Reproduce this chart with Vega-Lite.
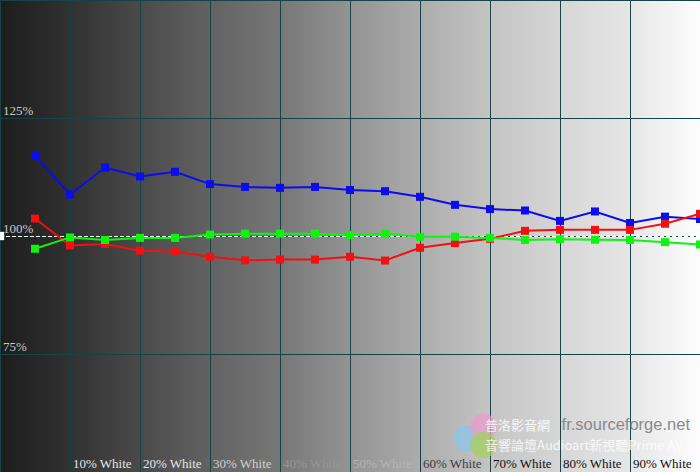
{
  "$schema": "https://vega.github.io/schema/vega-lite/v6.json",
  "width": 700,
  "height": 472,
  "padding": 0,
  "autosize": {"type": "fit", "contains": "padding"},
  "background": "#1e1e1e",
  "config": {"view": {"stroke": null}},
  "resolve": {"scale": {"color": "independent"}},
  "datasets": {
    "rgb": [
      {"p": 5, "c": "Blue", "v": 117.0}, {"p": 10, "c": "Blue", "v": 108.8}, {"p": 15, "c": "Blue", "v": 114.5}, {"p": 20, "c": "Blue", "v": 112.6},
      {"p": 25, "c": "Blue", "v": 113.6}, {"p": 30, "c": "Blue", "v": 111.0}, {"p": 35, "c": "Blue", "v": 110.4}, {"p": 40, "c": "Blue", "v": 110.2},
      {"p": 45, "c": "Blue", "v": 110.4}, {"p": 50, "c": "Blue", "v": 109.75}, {"p": 55, "c": "Blue", "v": 109.5}, {"p": 60, "c": "Blue", "v": 108.3},
      {"p": 65, "c": "Blue", "v": 106.6}, {"p": 70, "c": "Blue", "v": 105.7}, {"p": 75, "c": "Blue", "v": 105.4}, {"p": 80, "c": "Blue", "v": 103.2},
      {"p": 85, "c": "Blue", "v": 105.2}, {"p": 90, "c": "Blue", "v": 102.75}, {"p": 95, "c": "Blue", "v": 104.1}, {"p": 100, "c": "Blue", "v": 103.6},
      {"p": 5, "c": "Red", "v": 103.7}, {"p": 10, "c": "Red", "v": 98.0}, {"p": 15, "c": "Red", "v": 98.3}, {"p": 20, "c": "Red", "v": 96.9},
      {"p": 25, "c": "Red", "v": 96.7}, {"p": 30, "c": "Red", "v": 95.6}, {"p": 35, "c": "Red", "v": 94.85}, {"p": 40, "c": "Red", "v": 95.0},
      {"p": 45, "c": "Red", "v": 95.0}, {"p": 50, "c": "Red", "v": 95.6}, {"p": 55, "c": "Red", "v": 94.8}, {"p": 60, "c": "Red", "v": 97.5},
      {"p": 65, "c": "Red", "v": 98.5}, {"p": 70, "c": "Red", "v": 99.4}, {"p": 75, "c": "Red", "v": 101.1}, {"p": 80, "c": "Red", "v": 101.3},
      {"p": 85, "c": "Red", "v": 101.3}, {"p": 90, "c": "Red", "v": 101.3}, {"p": 95, "c": "Red", "v": 102.6}, {"p": 100, "c": "Red", "v": 104.7},
      {"p": 5, "c": "Green", "v": 97.3}, {"p": 10, "c": "Green", "v": 99.7}, {"p": 15, "c": "Green", "v": 99.15}, {"p": 20, "c": "Green", "v": 99.6},
      {"p": 25, "c": "Green", "v": 99.6}, {"p": 30, "c": "Green", "v": 100.3}, {"p": 35, "c": "Green", "v": 100.5}, {"p": 40, "c": "Green", "v": 100.5},
      {"p": 45, "c": "Green", "v": 100.5}, {"p": 50, "c": "Green", "v": 100.2}, {"p": 55, "c": "Green", "v": 100.5}, {"p": 60, "c": "Green", "v": 99.85},
      {"p": 65, "c": "Green", "v": 99.85}, {"p": 70, "c": "Green", "v": 99.6}, {"p": 75, "c": "Green", "v": 99.15}, {"p": 80, "c": "Green", "v": 99.3},
      {"p": 85, "c": "Green", "v": 99.2}, {"p": 90, "c": "Green", "v": 99.15}, {"p": 95, "c": "Green", "v": 98.7}, {"p": 100, "c": "Green", "v": 98.2}
    ]
  },
  "layer": [
    {
      "data": {"values": [{}]},
      "mark": {
        "type": "rect",
        "fill": {
          "gradient": "linear", "x1": 0, "y1": 0, "x2": 1, "y2": 0,
          "stops": [
            {"offset": 0, "color": "#1c1c1c"},
            {"offset": 0.1, "color": "#313131"},
            {"offset": 0.2, "color": "#4a4a4a"},
            {"offset": 0.3, "color": "#626262"},
            {"offset": 0.4, "color": "#777777"},
            {"offset": 0.5, "color": "#939393"},
            {"offset": 0.6, "color": "#acacac"},
            {"offset": 0.7, "color": "#c4c4c4"},
            {"offset": 0.8, "color": "#d6d6d6"},
            {"offset": 0.9, "color": "#e6e6e6"},
            {"offset": 1, "color": "#fdfdfd"}
          ]
        }
      },
      "encoding": {
        "x": {"datum": 0, "type": "quantitative", "scale": {"domain": [0, 100], "nice": false, "zero": false}, "axis": null},
        "x2": {"datum": 100},
        "y": {"datum": 50, "type": "quantitative", "scale": {"domain": [50, 150], "nice": false, "zero": false}, "axis": null},
        "y2": {"datum": 150}
      }
    },
    {
      "data": {"values": [{"g": 0}, {"g": 10}, {"g": 20}, {"g": 30}, {"g": 40}, {"g": 50}, {"g": 60}, {"g": 70}, {"g": 80}, {"g": 90}, {"g": 100}]},
      "mark": {"type": "rule", "color": "#164248", "strokeWidth": 1, "xOffset": 0.5, "clip": true},
      "encoding": {"x": {"field": "g", "type": "quantitative"}}
    },
    {
      "data": {"values": [{"g": 75}, {"g": 100}, {"g": 125}, {"g": 150}]},
      "mark": {"type": "rule", "color": "#164248", "strokeWidth": 1, "yOffset": 0.5, "clip": true},
      "encoding": {"y": {"field": "g", "type": "quantitative"}}
    },
    {
      "data": {"values": [{"g": 100}]},
      "mark": {"type": "rule", "color": "#ffffff", "strokeWidth": 1, "strokeDash": [4, 2], "yOffset": 0.5, "clip": true},
      "encoding": {"y": {"field": "g", "type": "quantitative"}}
    },
    {
      "data": {"values": [{}]},
      "mark": {"type": "point", "shape": "square", "filled": true, "size": 70, "color": "#ffffff", "opacity": 1, "clip": true},
      "encoding": {
        "x": {"datum": 0, "type": "quantitative"},
        "y": {"datum": 100, "type": "quantitative"}
      }
    },
    {
      "data": {"name": "rgb"},
      "mark": {"type": "line", "strokeWidth": 2, "clip": true, "point": {"shape": "square", "size": 64, "filled": true, "opacity": 1}},
      "encoding": {
        "x": {"field": "p", "type": "quantitative"},
        "y": {"field": "v", "type": "quantitative"},
        "color": {"field": "c", "type": "nominal", "sort": ["Blue", "Red", "Green"], "scale": {"domain": ["Blue", "Red", "Green"], "range": ["#0c0cec", "#f21010", "#10f210"]}, "legend": null}
      }
    },
    {
      "data": {"values": [{"v": 125, "t": "125%"}, {"v": 100, "t": "100%"}, {"v": 75, "t": "75%"}]},
      "mark": {"type": "text", "font": "Liberation Serif", "fontSize": 13, "align": "left", "baseline": "alphabetic", "dx": 3, "dy": -3, "color": "#c8c8c8"},
      "encoding": {
        "x": {"datum": 0, "type": "quantitative"},
        "y": {"field": "v", "type": "quantitative"},
        "text": {"field": "t"}
      }
    },
    {
      "data": {"values": [
        {"v": 10, "t": "10% White"}, {"v": 20, "t": "20% White"}, {"v": 30, "t": "30% White"},
        {"v": 40, "t": "40% White"}, {"v": 50, "t": "50% White"}, {"v": 60, "t": "60% White"},
        {"v": 70, "t": "70% White"}, {"v": 80, "t": "80% White"}, {"v": 90, "t": "90% White"}
      ]},
      "mark": {"type": "text", "font": "Liberation Serif", "fontSize": 13, "align": "left", "baseline": "alphabetic", "dx": 3},
      "encoding": {
        "x": {"field": "v", "type": "quantitative"},
        "y": {"datum": 50.85, "type": "quantitative"},
        "text": {"field": "t"},
        "color": {
          "condition": [
            {"test": "datum.v <= 20", "value": "#e4e4e4"},
            {"test": "datum.v <= 30", "value": "#cfcfcf"},
            {"test": "datum.v <= 40", "value": "#959595"},
            {"test": "datum.v <= 50", "value": "#b4b4b4"},
            {"test": "datum.v <= 60", "value": "#3c3c3c"}
          ],
          "value": "#111111"
        }
      }
    },
    {
      "data": {"values": [{}]},
      "mark": {"type": "text", "text": "fr.sourceforge.net", "font": "Liberation Sans", "fontSize": 16.5, "align": "right", "baseline": "alphabetic", "color": "#7a7a7a", "opacity": 0.85},
      "encoding": {"x": {"datum": 98.57, "type": "quantitative"}, "y": {"datum": 58.9, "type": "quantitative"}}
    },
    {
      "data": {"values": [{"k": "b", "x": 66.67, "y": 57.14}, {"k": "p", "x": 69.05, "y": 59.6}, {"k": "g", "x": 69.05, "y": 55.72}]},
      "mark": {"type": "point", "shape": "circle", "filled": true, "size": 700, "opacity": 0.75},
      "encoding": {
        "x": {"field": "x", "type": "quantitative"},
        "y": {"field": "y", "type": "quantitative"},
        "color": {"field": "k", "type": "nominal", "scale": {"domain": ["b", "p", "g"], "range": ["#8cc4e8", "#e89ccc", "#a4d05c"]}, "legend": null}
      }
    },
    {
      "data": {"values": [{}]},
      "mark": {"type": "text", "text": "普洛影音網", "font": "Noto Sans CJK TC", "fontSize": 13, "align": "left", "baseline": "alphabetic", "color": "#ffffff", "opacity": 0.85},
      "encoding": {"x": {"datum": 69.3, "type": "quantitative"}, "y": {"datum": 58.9, "type": "quantitative"}}
    },
    {
      "data": {"values": [{}]},
      "mark": {"type": "text", "text": "音響論壇Audioart新視聽Prime AV", "font": "Noto Sans CJK TC", "fontSize": 13, "align": "left", "baseline": "alphabetic", "color": "#ffffff", "opacity": 0.8},
      "encoding": {"x": {"datum": 69.3, "type": "quantitative"}, "y": {"datum": 54.7, "type": "quantitative"}}
    }
  ]
}
